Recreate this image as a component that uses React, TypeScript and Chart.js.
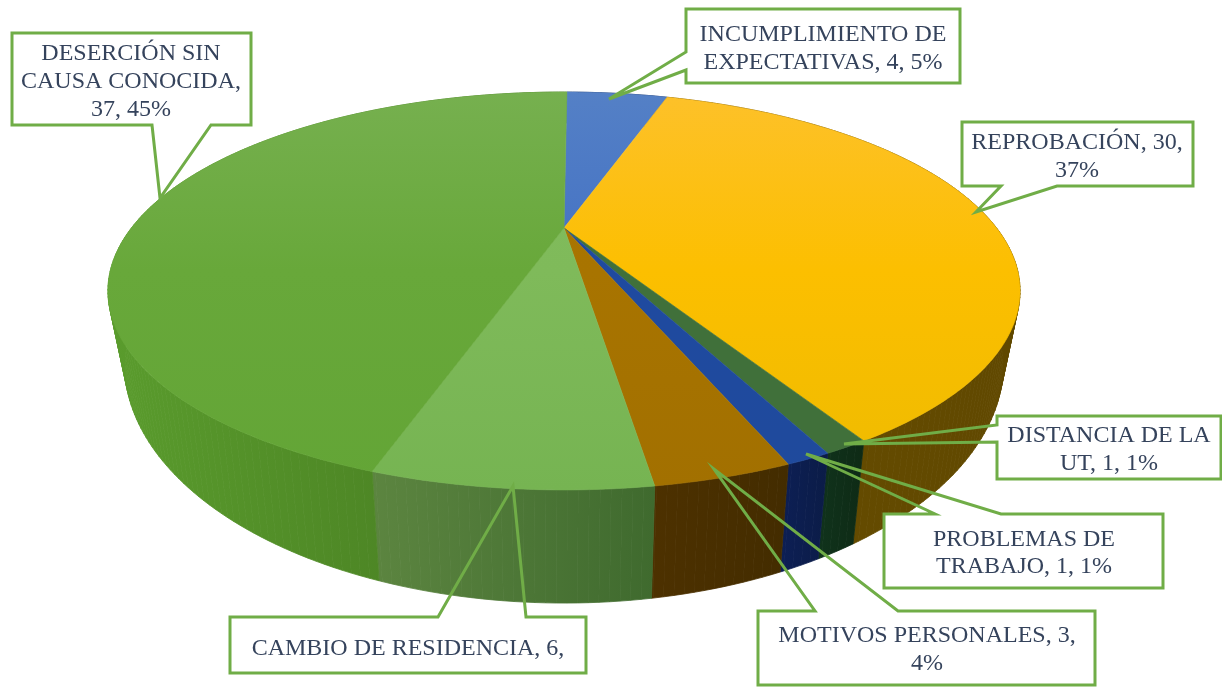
import React, { useEffect, useRef } from "react";
import { Chart, registerables } from "chart.js";

Chart.register(...registerables);

// ---- data ----
const categories = [
  "INCUMPLIMIENTO DE EXPECTATIVAS",
  "REPROBACIÓN",
  "DISTANCIA DE LA UT",
  "PROBLEMAS DE TRABAJO",
  "MOTIVOS PERSONALES",
  "CAMBIO DE RESIDENCIA",
  "DESERCIÓN SIN CAUSA CONOCIDA",
];
const values = [4, 30, 1, 1, 3, 6, 37];
const labelLines = [
  ["INCUMPLIMIENTO DE", "EXPECTATIVAS, 4, 5%"],
  ["REPROBACIÓN, 30,", "37%"],
  ["DISTANCIA DE LA", "UT, 1, 1%"],
  ["PROBLEMAS DE", "TRABAJO, 1, 1%"],
  ["MOTIVOS PERSONALES, 3,", "4%"],
  ["CAMBIO DE RESIDENCIA, 6,"],
  ["DESERCIÓN SIN", "CAUSA CONOCIDA,", "37, 45%"],
];

// ---- styles ----
const baseColors = ["#4472c4", "#fcbf00", "#40703a", "#1f4aa0", "#a87400", "#7fba5a", "#68a83a"];
const topFrom = ["#5480c6", "#fdc12a", "#3f7138", "#2048a0", "#ab7700", "#82bd5e", "#76b04f"];
const topTo = ["#3a68c6", "#eebb00", "#40703a", "#1f4a9c", "#a27000", "#76b452", "#63a536"];
const wallFrom = ["#1f3864", "#694e00", "#10331c", "#0d1f55", "#4d3100", "#5c8540", "#5a9c2d"];
const wallTo = ["#1f3864", "#604800", "#0e2a15", "#0b1c47", "#432c00", "#3f6a2e", "#457820"];
const textColor = "#35435c";
const calloutColor = "#70ad47";

// ---- perspective of the disc: top and bottom faces ----
const CX = 564;
const topFace = { ay: 228, a: 432.6, b: 179, k: -0.3166 };
const bottomFace = { ay: 287, a: 417, b: 216, k: -0.3166 };

function project(face: typeof topFace, theta: number) {
  const x = Math.sin(theta);
  const y = -Math.cos(theta);
  const d = 1 + face.k * y;
  return { x: CX + (face.a * x) / d, y: face.ay + (face.b * y) / d };
}

// ---- callouts: box, wedge and text layout ----
type Callout = {
  box: [number, number, number, number];
  side: "left" | "top" | "bottom";
  wedge: [number, number];
  tip: [number, number];
  textX: number;
  baselines: number[];
};
const callouts: Callout[] = [
  { box: [686, 9, 960, 83], side: "left", wedge: [52, 70], tip: [609, 99], textX: 823, baselines: [41, 69] },
  { box: [962, 122, 1193, 186], side: "bottom", wedge: [1001, 1057], tip: [976, 212], textX: 1077, baselines: [149, 177] },
  { box: [997, 416, 1221, 479], side: "left", wedge: [425, 442], tip: [844, 444], textX: 1109, baselines: [442, 470] },
  { box: [884, 514, 1163, 588], side: "top", wedge: [935, 1001], tip: [806, 454], textX: 1024, baselines: [546, 573] },
  { box: [758, 611, 1095, 685], side: "top", wedge: [815, 898], tip: [714, 469], textX: 927, baselines: [642, 670] },
  { box: [230, 617, 586, 673], side: "top", wedge: [438, 526], tip: [513, 486], textX: 408, baselines: [655] },
  { box: [12, 33, 251, 125], side: "bottom", wedge: [152, 211], tip: [160, 198], textX: 131, baselines: [60, 88, 116] },
];

const disc3D = {
  id: "disc3D",
  beforeDatasetDraw(chart: any) {
    const ctx: CanvasRenderingContext2D = chart.ctx;
    const arcs = chart.getDatasetMeta(0).data;
    const STEP = Math.PI / 180;
    const ranges = arcs.map((el: any) => {
      const p = el.getProps(["startAngle", "endAngle"], true);
      return [p.startAngle + Math.PI / 2, p.endAngle + Math.PI / 2];
    });

    // side wall
    ctx.save();
    ranges.forEach(([s, e]: number[], i: number) => {
      const ts: number[] = [];
      for (let t = s; t < e; t += STEP) ts.push(t);
      ts.push(e);
      const xs = ts.map((t) => project(topFace, t).x).concat(ts.map((t) => project(bottomFace, t).x));
      const g = ctx.createLinearGradient(Math.min(...xs), 0, Math.max(...xs), 0);
      g.addColorStop(0, wallFrom[i]);
      g.addColorStop(1, wallTo[i]);
      ctx.fillStyle = g;
      ctx.strokeStyle = g;
      ctx.lineWidth = 0.8;
      for (let j = 0; j < ts.length - 1; j++) {
        const a = project(topFace, ts[j]);
        const b = project(topFace, ts[j + 1]);
        const c = project(bottomFace, ts[j + 1]);
        const d = project(bottomFace, ts[j]);
        ctx.beginPath();
        ctx.moveTo(a.x, a.y);
        ctx.lineTo(b.x, b.y);
        ctx.lineTo(c.x, c.y);
        ctx.lineTo(d.x, d.y);
        ctx.closePath();
        ctx.fill();
        ctx.stroke();
      }
    });

    // top face
    ranges.forEach(([s, e]: number[], i: number) => {
      const g = ctx.createLinearGradient(0, 92, 0, 490);
      g.addColorStop(0, topFrom[i]);
      g.addColorStop(0.45, arcs[i].options.backgroundColor);
      g.addColorStop(1, topTo[i]);
      ctx.fillStyle = g;
      ctx.strokeStyle = g;
      ctx.lineWidth = 0.6;
      ctx.beginPath();
      ctx.moveTo(CX, topFace.ay);
      for (let t = s; t < e; t += STEP / 2) {
        const p = project(topFace, t);
        ctx.lineTo(p.x, p.y);
      }
      const pe = project(topFace, e);
      ctx.lineTo(pe.x, pe.y);
      ctx.closePath();
      ctx.fill();
      ctx.stroke();
    });
    ctx.restore();
    return false;
  },
  afterDraw(chart: any) {
    const ctx: CanvasRenderingContext2D = chart.ctx;
    ctx.save();
    callouts.forEach((c, i) => {
      const [x0, y0, x1, y1] = c.box;
      ctx.fillStyle = "#ffffff";
      ctx.fillRect(x0, y0, x1 - x0, y1 - y0);
      ctx.beginPath();
      ctx.moveTo(x0, y0);
      if (c.side === "top") {
        ctx.lineTo(c.wedge[0], y0);
        ctx.lineTo(c.tip[0], c.tip[1]);
        ctx.lineTo(c.wedge[1], y0);
      }
      ctx.lineTo(x1, y0);
      ctx.lineTo(x1, y1);
      if (c.side === "bottom") {
        ctx.lineTo(c.wedge[1], y1);
        ctx.lineTo(c.tip[0], c.tip[1]);
        ctx.lineTo(c.wedge[0], y1);
      }
      ctx.lineTo(x0, y1);
      if (c.side === "left") {
        ctx.lineTo(x0, c.wedge[1]);
        ctx.lineTo(c.tip[0], c.tip[1]);
        ctx.lineTo(x0, c.wedge[0]);
      }
      ctx.closePath();
      ctx.strokeStyle = calloutColor;
      ctx.lineWidth = 3;
      ctx.lineJoin = "miter";
      ctx.stroke();

      ctx.fillStyle = textColor;
      ctx.font = '24px "Liberation Serif"';
      ctx.textAlign = "center";
      ctx.textBaseline = "alphabetic";
      labelLines[i].forEach((line, j) => ctx.fillText(line, c.textX, c.baselines[j]));
    });
    ctx.restore();
  },
};

export default function App() {
  const ref = useRef<HTMLCanvasElement>(null);
  useEffect(() => {
    const chart = new Chart(ref.current!, {
      type: "pie",
      data: {
        labels: categories,
        datasets: [{ data: values, backgroundColor: baseColors, borderWidth: 0 }],
      },
      options: {
        responsive: false,
        animation: false,
        rotation: 0.5,
        plugins: { legend: { display: false }, tooltip: { enabled: false } },
      },
      plugins: [disc3D],
    } as any);
    return () => chart.destroy();
  }, []);
  return (
    <canvas
      ref={ref}
      width={1222}
      height={689}
      style={{ position: "fixed", left: 0, top: 0, width: 1222, height: 689, background: "#ffffff" }}
    />
  );
}
